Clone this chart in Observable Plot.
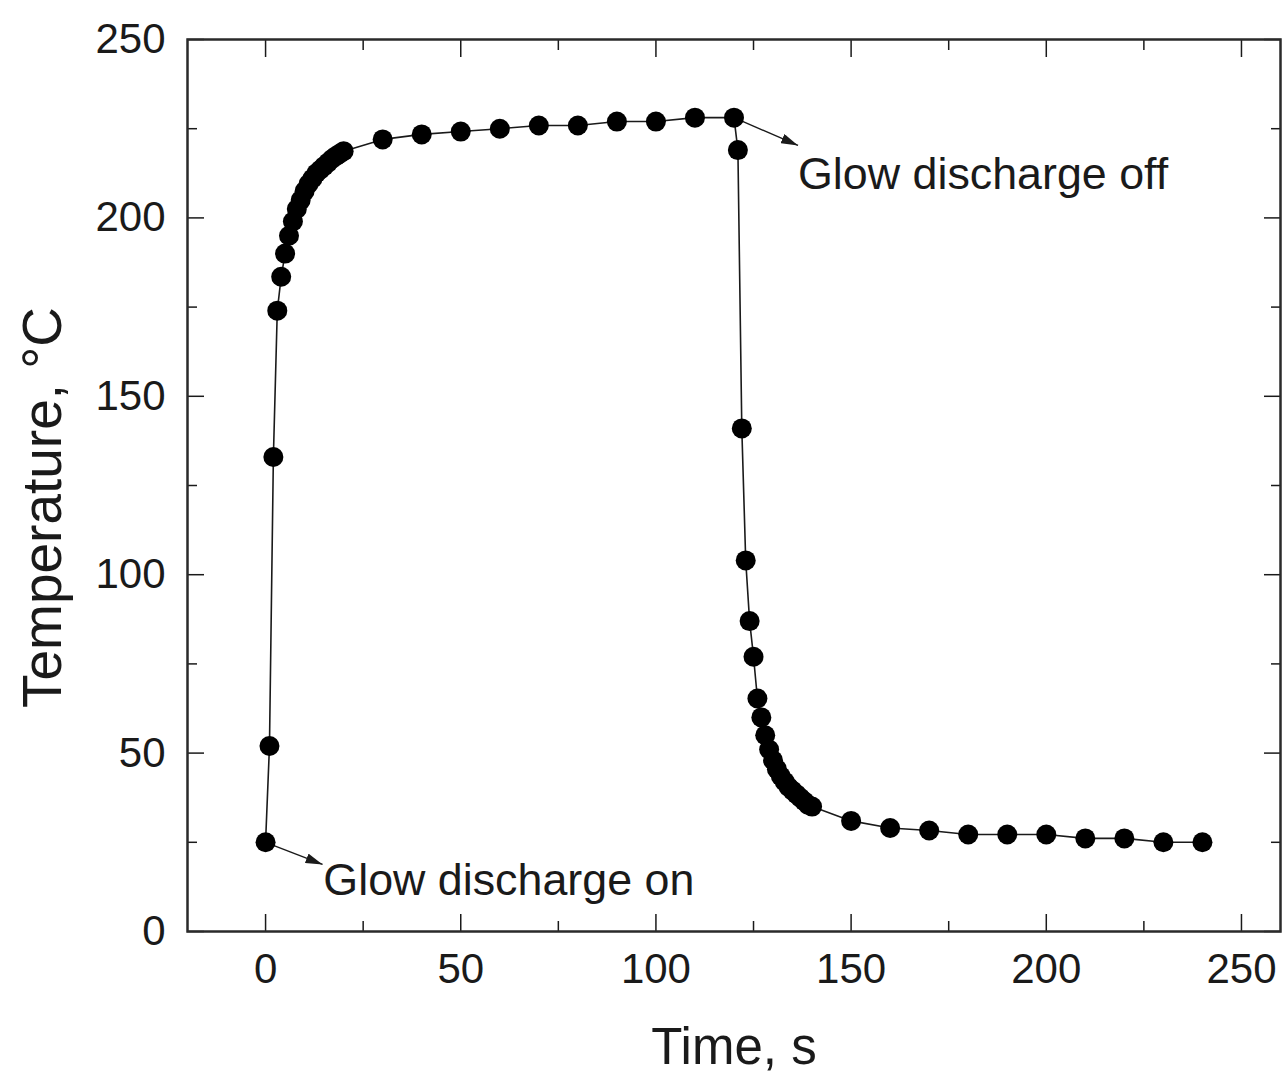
<!DOCTYPE html>
<html>
<head>
<meta charset="utf-8">
<script src="https://cdn.jsdelivr.net/npm/d3@7"></script>
<script src="https://cdn.jsdelivr.net/npm/@observablehq/plot@0.6"></script>
<style>
  html, body { margin: 0; padding: 0; background: #fff; }
  #chart svg { display: block; }
</style>
</head>
<body>
<div id="chart"></div>
<script>
// ---- data ----
const time = [0,1,2,3,4,5,6,7,8,9,10,11,12,13,14,15,16,17,18,19,20,
  30,40,50,60,70,80,90,100,110,120,
  121,122,123,124,125,126,127,128,129,130,131,132,133,134,135,136,137,138,139,140,
  150,160,170,180,190,200,210,220,230,240];
const temperature = [25,52,133,174,183.5,190,195,199,202.5,205,207.5,209.5,211,212.5,213.5,214.5,215.5,216.5,217.3,218,218.7,
  222,223.4,224.2,225,225.9,225.9,227,227,228.1,228.1,
  219,141,104,87,77,65.3,60,55,51,48,45.5,43.5,42,40.5,39.5,38.5,37.5,36.5,35.5,35,
  31,29,28.3,27.2,27.2,27.2,26.1,26.1,25,25];

const xMajorTicks = [0,50,100,150,200,250];
const xMinorTicks = [25,75,125,175,225];
const yMajorTicks = [0,50,100,150,200,250];
const yMinorTicks = [25,75,125,175,225];

const annotationText = ["Glow discharge on", "Glow discharge off"];
const annotationX = [14.8, 136.4];
const annotationY = [10.1, 208.2];
const arrowFromX = [0, 120];
const arrowFromY = [25, 228.1];
const arrowToX = [14.6, 136.4];
const arrowToY = [18.8, 220.3];

const xTitle = "Time, s";
const yTitle = "Temperature, \u00B0C";

// ---- build tables ----
const series = time.map((t, i) => ({t, T: temperature[i]}));
const notes = annotationText.map((text, i) => ({text, x: annotationX[i], y: annotationY[i]}));
const arrows = arrowFromX.map((x1, i) => ({x1, y1: arrowFromY[i], x2: arrowToX[i], y2: arrowToY[i]}));

const ink = "#1a1a1a";

function filledArrow(color) {
  const m = d3.create("svg:marker")
    .attr("viewBox", "0 -5 10 10")
    .attr("refX", 10)
    .attr("refY", 0)
    .attr("markerUnits", "userSpaceOnUse")
    .attr("markerWidth", 17)
    .attr("markerHeight", 10)
    .attr("preserveAspectRatio", "none")
    .attr("orient", "auto");
  m.append("path").attr("d", "M0,-5L10,0L0,5Z").attr("fill", color).attr("stroke", "none");
  return m.node();
}

const plot = Plot.plot({
  width: 1283,
  height: 1077,
  marginLeft: 187,
  marginRight: 3,
  marginTop: 39,
  marginBottom: 146,
  style: {fontFamily: "'Liberation Sans', Arial, sans-serif", background: "#fff", color: ink},
  x: {domain: [-20, 260], label: null},
  y: {domain: [0, 250], label: null},
  marks: [
    // bottom axis
    Plot.axisX({anchor: "bottom", ticks: xMajorTicks, tickSize: -17, tickPadding: 39, fontSize: 42, label: null, stroke: ink, strokeWidth: 1.5, fill: ink}),
    Plot.axisX({anchor: "bottom", ticks: xMinorTicks, tickSize: -10, fill: "none", label: null, stroke: ink, strokeWidth: 1.5}),
    // top axis
    Plot.axisX({anchor: "top", ticks: xMajorTicks, tickSize: -17, fill: "none", label: null, stroke: ink, strokeWidth: 1.5}),
    Plot.axisX({anchor: "top", ticks: xMinorTicks, tickSize: -10, fill: "none", label: null, stroke: ink, strokeWidth: 1.5}),
    // left axis
    Plot.axisY({anchor: "left", ticks: yMajorTicks, tickSize: -17, tickPadding: 39, fontSize: 42, label: null, stroke: ink, strokeWidth: 1.5, fill: ink}),
    Plot.axisY({anchor: "left", ticks: yMinorTicks, tickSize: -10, fill: "none", label: null, stroke: ink, strokeWidth: 1.5}),
    // right axis
    Plot.axisY({anchor: "right", ticks: yMajorTicks, tickSize: -17, fill: "none", label: null, stroke: ink, strokeWidth: 1.5}),
    Plot.axisY({anchor: "right", ticks: yMinorTicks, tickSize: -10, fill: "none", label: null, stroke: ink, strokeWidth: 1.5}),
    Plot.frame({stroke: "#2a2a2a", strokeWidth: 2.5}),
    // axis titles
    Plot.text([xTitle], {text: d => d, frameAnchor: "bottom", textAnchor: "middle", lineAnchor: "bottom", dy: 132, fontSize: 51, fill: ink}),
    Plot.text([yTitle], {text: d => d, frameAnchor: "left", textAnchor: "middle", lineAnchor: "bottom", rotate: -90, dx: -127, dy: 22, fontSize: 55, fill: ink}),
    // data
    Plot.line(series, {x: "t", y: "T", stroke: ink, strokeWidth: 1.6}),
    Plot.link(arrows, {x1: "x1", y1: "y1", x2: "x2", y2: "y2", stroke: ink, strokeWidth: 1.4, markerEnd: filledArrow}),
    Plot.dot(series, {x: "t", y: "T", r: 10, fill: "#000", stroke: "none"}),
    // annotations
    Plot.text(notes, {x: "x", y: "y", text: "text", textAnchor: "start", lineAnchor: "bottom", fontSize: 44.8, fill: ink})
  ]
});

document.getElementById("chart").appendChild(plot);
</script>
</body>
</html>
